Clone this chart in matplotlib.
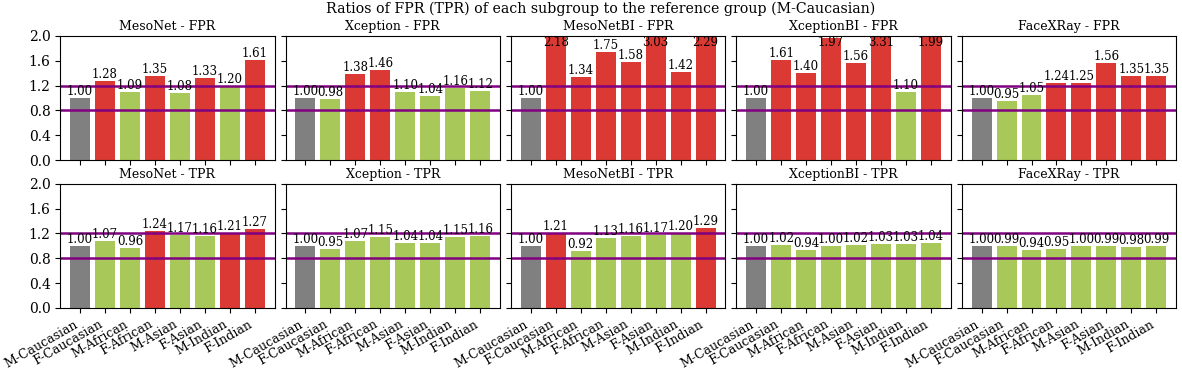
import numpy as np
import matplotlib
matplotlib.use("Agg")
import matplotlib.pyplot as plt

plt.rcParams['font.family'] = ['DejaVu Serif']

GROUPS = ['M-Caucasian', 'F-Caucasian', 'M-African', 'F-African',
          'M-Asian', 'F-Asian', 'M-Indian', 'F-Indian']
MODELS = ['MesoNet', 'Xception', 'MesoNetBI', 'XceptionBI', 'FaceXRay']

fpr_mesonet = [1.00, 1.28, 1.09, 1.35, 1.08, 1.33, 1.20, 1.61]
fpr_xception = [1.00, 0.98, 1.38, 1.46, 1.10, 1.04, 1.16, 1.12]
fpr_mesonetbi = [1.00, 2.18, 1.34, 1.75, 1.58, 3.03, 1.42, 2.29]
fpr_xceptionbi = [1.00, 1.61, 1.40, 1.97, 1.56, 3.31, 1.10, 1.99]
fpr_facexray = [1.00, 0.95, 1.05, 1.24, 1.25, 1.56, 1.35, 1.35]

tpr_mesonet = [1.00, 1.07, 0.96, 1.24, 1.17, 1.16, 1.21, 1.27]
tpr_xception = [1.00, 0.95, 1.07, 1.15, 1.04, 1.04, 1.15, 1.16]
tpr_mesonetbi = [1.00, 1.21, 0.92, 1.13, 1.16, 1.17, 1.20, 1.29]
tpr_xceptionbi = [1.00, 1.02, 0.94, 1.00, 1.02, 1.03, 1.03, 1.04]
tpr_facexray = [1.00, 0.99, 0.94, 0.95, 1.00, 0.99, 0.98, 0.99]

FPR = [fpr_mesonet, fpr_xception, fpr_mesonetbi, fpr_xceptionbi, fpr_facexray]
TPR = [tpr_mesonet, tpr_xception, tpr_mesonetbi, tpr_xceptionbi, tpr_facexray]

GREY = '#808080'
GREEN = '#a8c95a'
RED = '#db3a34'
LOW, HIGH = 0.8, 1.2
YMAX = 2.0

fig, axes = plt.subplots(2, 5, figsize=(11.82, 3.71), dpi=100, sharex=True, sharey=True)
fig.subplots_adjust(left=0.051, right=0.995, top=0.903, bottom=0.170,
                    wspace=0.052, hspace=0.19)

def draw(ax, vals, title):
    colors = []
    for i, v in enumerate(vals):
        if i == 0:
            colors.append(GREY)
        elif v > HIGH or v < LOW:
            colors.append(RED)
        else:
            colors.append(GREEN)
    x = np.arange(len(vals))
    ax.bar(x, vals, color=colors, width=0.8)
    ax.axhline(LOW, color='purple', lw=1.8)
    ax.axhline(HIGH, color='purple', lw=1.8)
    for xi, v in zip(x, vals):
        # labels that would not fit above the axes go inside the top
        if v > 1.9:
            ax.text(xi, YMAX, f'{v:.2f}', ha='center', va='top', fontsize=8.5)
        else:
            ax.text(xi, v, f'{v:.2f}', ha='center', va='bottom', fontsize=8.5)
    ax.set_title(title, fontsize=9, pad=4)
    ax.set_ylim(0, YMAX)
    ax.set_yticks(np.arange(0, 2.01, 0.4))
    ax.set_xticks(x)
    ax.set_xticklabels(GROUPS, rotation=30, ha='right', fontsize=9)
    ax.tick_params(axis='y', labelsize=10)

for j, m in enumerate(MODELS):
    draw(axes[0, j], FPR[j], f'{m} - FPR')
    draw(axes[1, j], TPR[j], f'{m} - TPR')

fig.suptitle('Ratios of FPR (TPR) of each subgroup to the reference group (M-Caucasian)',
             fontsize=10.2, x=0.508, y=0.995)

fig.savefig('out.png', dpi=100)
